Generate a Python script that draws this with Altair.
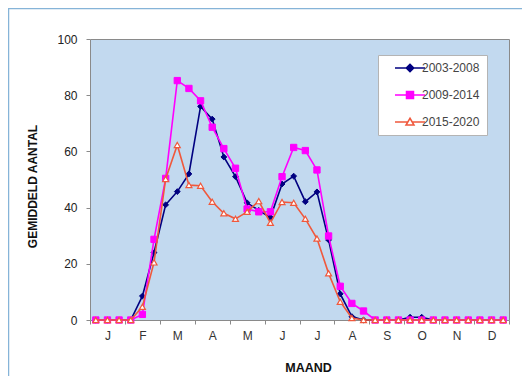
import json
import altair as alt
import pandas as pd

# ---- data ----
months = ["J", "F", "M", "A", "M", "J", "J", "A", "S", "O", "N", "D"]
series_names = ["2003-2008", "2009-2014", "2015-2020"]
# 36 ten-day periods (3 per month)
s2003_2008 = [0, 0, 0, 0, 8.5, 24, 41, 45.7, 52, 76, 71.5, 58,
              51, 41.7, 39, 36.5, 48.4, 51.2, 42.1, 45.6, 28.5, 9.3, 1.2, 0,
              0, 0, 0, 1, 1, 0, 0, 0, 0, 0, 0, 0]
s2009_2014 = [0, 0, 0, 0, 2, 28.7, 50.4, 85.2, 82.4, 78, 68.6, 61,
              54, 39.5, 38.5, 38.5, 51, 61.4, 60.3, 53.4, 29.9, 12, 5.9, 3.2,
              0, 0, 0, 0, 0, 0, 0, 0, 0, 0, 0, 0]
s2015_2020 = [0, 0, 0, 0, 4.7, 20.5, 50.2, 62.3, 48, 47.8, 42.1, 38,
              36, 38.5, 42.3, 34.6, 42, 41.7, 36, 29, 16.6, 6.5, 0.7, 0,
              0, 0, 0, 0, 0, 0, 0, 0, 0, 0, 0, 0]
y_ticks = [0, 20, 40, 60, 80, 100]

rows = []
for name, vals in zip(series_names, [s2003_2008, s2009_2014, s2015_2020]):
    for i, v in enumerate(vals):
        rows.append({"series": name, "idx": i, "pos": i + 0.5, "value": v})
df = pd.DataFrame(rows)

# ---- styling ----
FONT = "Liberation Sans"
NAVY = "#000080"
MAGENTA = "#FF00FF"
RED = "#F0583C"
PLOT_W, PLOT_H = 419, 281

x_values = [k * 1.5 for k in range(25)]
label_expr = "datum.value % 3 === 0 ? '' : " + json.dumps(months) + "[floor(datum.value / 3)]"

x_enc = alt.X(
    "pos:Q",
    scale=alt.Scale(domain=[0, 36], nice=False, zero=False),
    axis=alt.Axis(
        values=x_values, labelExpr=label_expr, labelOverlap=False, labelFlush=False,
        grid=False, domain=False, tickSize=4,
        tickColor={"condition": {"test": "datum.value % 3 === 0", "value": "#8a8a8a"},
                   "value": "transparent"},
        labelPadding=6, labelFont=FONT, labelFontSize=12, labelColor="#333333",
        title="MAAND", titleFont=FONT, titleFontSize=12.5, titleFontWeight="bold",
        titleColor="#111111", titlePadding=20, titleX=218,
    ),
)
y_enc = alt.Y(
    "value:Q",
    scale=alt.Scale(domain=[0, 100], nice=False),
    axis=alt.Axis(
        values=y_ticks, grid=False, domain=False, tickSize=4, tickColor="#8a8a8a",
        labelPadding=9, labelFont=FONT, labelFontSize=12, labelColor="#222222",
        title="GEMIDDELD AANTAL", titleFont=FONT, titleFontSize=12,
        titleFontWeight="bold", titleColor="#111111", titleX=-51, titleY=147,
    ),
)

base = alt.Chart(df)

def series_layers(name, color, shape, fill, size, sw):
    sub = base.transform_filter(alt.datum.series == name)
    line = sub.mark_line(color=color, strokeWidth=1.6).encode(x=x_enc, y=y_enc)
    pts = sub.mark_point(shape=shape, filled=True, fill=fill, stroke=color,
                         strokeWidth=sw, size=size, opacity=1).encode(x=x_enc, y=y_enc)
    return [line, pts]

layers = []
layers += series_layers("2003-2008", NAVY, "diamond", NAVY, 34, 1)
layers += series_layers("2009-2014", MAGENTA, "square", MAGENTA, 40, 1)
layers += series_layers("2015-2020", RED, "triangle-up", "white", 36, 1.2)

# legend-only layer (no marks drawn; entries come from the explicit domains)
legend_shapes = [
    "M0.8,0H6.8M3.8,-0.75L4.55,0L3.8,0.75L3.05,0Z",
    "M0.8,0H6.8M3.1,-0.7H4.5V0.7H3.1Z",
    "M0.8,0H3.36M4.24,0H6.8M3.8,-0.75L4.6,0.6H3.0Z",
]
leg = alt.Legend(title=None)
legend_layer = base.transform_filter("datum.idx < 0").mark_point(filled=True, opacity=1).encode(
    x=x_enc, y=y_enc,
    shape=alt.Shape("series:N", scale=alt.Scale(domain=series_names, range=legend_shapes),
                    legend=leg),
    fill=alt.Fill("series:N", scale=alt.Scale(domain=series_names, range=[NAVY, MAGENTA, "white"]),
                  legend=leg),
    stroke=alt.Stroke("series:N", scale=alt.Scale(domain=series_names, range=[NAVY, MAGENTA, RED]),
                      legend=leg),
)

frame_df = pd.DataFrame({"a": [0]})
frame_top = alt.Chart(frame_df).mark_rule(color="#86B4D8", strokeWidth=1.5).encode(
    x=alt.value(-82), x2=alt.value(PLOT_W + 13), y=alt.value(-30.5))
frame_left = alt.Chart(frame_df).mark_rule(color="#86B4D8", strokeWidth=1.5).encode(
    x=alt.value(-81.5), y=alt.value(-31), y2=alt.value(PLOT_H + 56))

chart = alt.layer(frame_top, frame_left, *layers, legend_layer).properties(
    width=PLOT_W, height=PLOT_H,
    autosize=alt.AutoSizeParams(type="none"),
    padding={"left": 82, "top": 31, "right": 13, "bottom": 56},
    background="white",
).configure_view(
    fill="#C2D9EF", stroke="#8a8a8a", strokeWidth=1,
).configure_legend(
    orient="none", legendX=288, legendY=16,
    fillColor="white", strokeColor="#b4b4b4", padding=7,
    symbolSize=100, symbolStrokeWidth=1.5, labelOffset=25,
    labelFont=FONT, labelFontSize=12, labelColor="#444444", rowPadding=13,
)

chart.save("out.html", embed_options={"renderer": "svg", "actions": False})
